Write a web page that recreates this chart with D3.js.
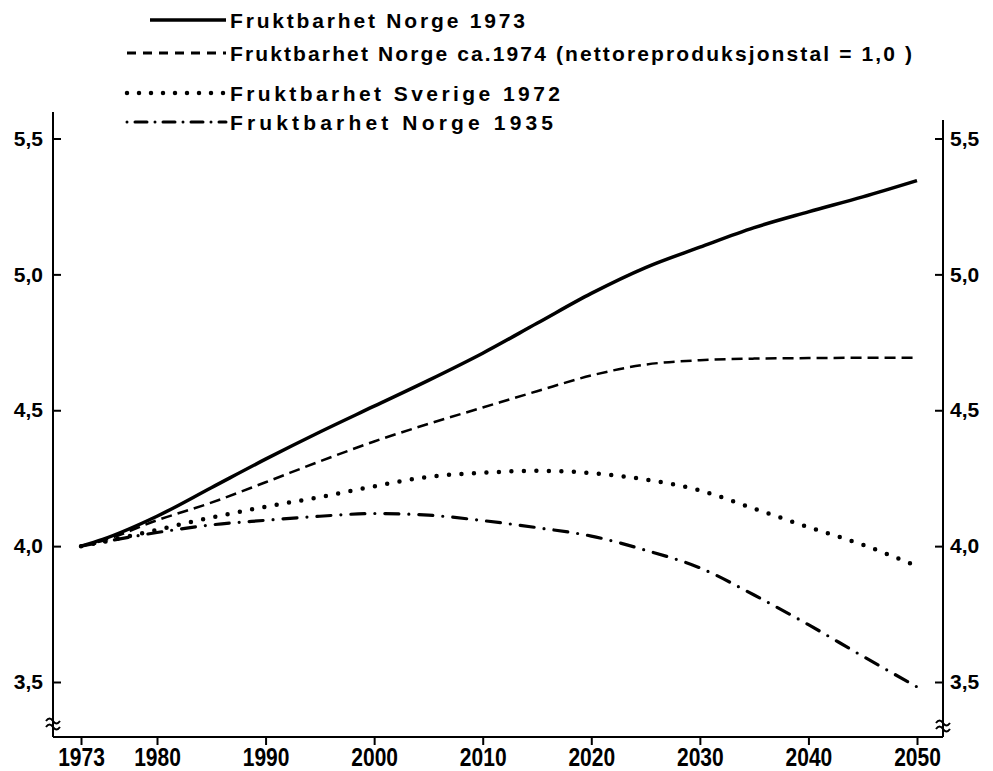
<!DOCTYPE html>
<html><head><meta charset="utf-8">
<script src="https://cdn.jsdelivr.net/npm/d3@7"></script>
<style>
body{margin:0;background:#fff;}
svg{display:block;}
.lbl{font-family:"Liberation Sans",Arial,sans-serif;font-weight:bold;fill:#000;}
</style></head>
<body><svg id="c" width="993" height="771"></svg>
<script>
const years = [1973,1975,1980,1985,1990,1995,2000,2005,2010,2015,2020,2025,2030,2035,2040,2045,2050];
const norge1973 = [4.00,4.025,4.11,4.215,4.32,4.42,4.515,4.61,4.71,4.82,4.93,5.025,5.10,5.172,5.23,5.285,5.345];
const norge1974 = [4.00,4.02,4.095,4.16,4.235,4.312,4.385,4.45,4.51,4.57,4.628,4.668,4.684,4.69,4.692,4.693,4.693];
const sverige1972 = [4.00,4.015,4.06,4.105,4.145,4.18,4.22,4.255,4.27,4.277,4.269,4.245,4.205,4.138,4.07,4.005,3.926];
const norge1935 = [4.00,4.015,4.05,4.078,4.095,4.11,4.12,4.114,4.094,4.068,4.037,3.985,3.92,3.82,3.711,3.595,3.482];
const xTicks = [1973,1980,1990,2000,2010,2020,2030,2040,2050];
const xTickLabels = ["1973","1980","1990","2000","2010","2020","2030","2040","2050"];
const yTicks = [3.5,4.0,4.5,5.0,5.5];
const legendLabels = ["Fruktbarhet  Norge  1973","Fruktbarhet  Norge ca.1974 (nettoreproduksjonstal = 1,0 )","Fruktbarhet  Sverige 1972","Fruktbarhet  Norge  1935"];

const svg = d3.select("#c");
const x = d3.scaleLinear().domain([1973,2050]).range([81,917]);
const y = d3.scaleLinear().domain([3.5,5.5]).range([682,138.5]);
const xLeft = 53, xRight = 943, yBottom = 737, yTop = 112;
const fmt = v => d3.format(".1f")(v).replace(".", ",");

// axes lines
const ax = svg.append("g").attr("stroke","#000").attr("stroke-width",2).attr("fill","none");
ax.append("line").attr("x1",xLeft).attr("x2",xLeft).attr("y1",yTop).attr("y2",yBottom);
ax.append("line").attr("x1",xRight).attr("x2",xRight).attr("y1",yTop+8).attr("y2",yBottom);
ax.append("line").attr("x1",xLeft).attr("x2",xRight).attr("y1",yBottom).attr("y2",yBottom);

// left axis
const gl = svg.append("g").attr("transform",`translate(${xLeft},0)`)
  .call(d3.axisLeft(y).tickValues(yTicks).tickSize(-8).tickFormat(fmt));
gl.select(".domain").remove();
gl.selectAll(".tick line").attr("stroke","#000").attr("stroke-width",2);
gl.selectAll(".tick text").attr("class","lbl").style("font-size","21px").attr("x",-10);

// right axis
const gr = svg.append("g").attr("transform",`translate(${xRight},0)`)
  .call(d3.axisRight(y).tickValues(yTicks).tickSize(-8).tickFormat(fmt));
gr.select(".domain").remove();
gr.selectAll(".tick line").attr("stroke","#000").attr("stroke-width",2);
gr.selectAll(".tick text").attr("class","lbl").style("font-size","21px").attr("x",7);

// bottom axis
const gb = svg.append("g").attr("transform",`translate(0,${yBottom})`)
  .call(d3.axisBottom(x).tickValues(xTicks).tickSize(8).tickFormat((d,i)=>xTickLabels[i]).tickPadding(3));
gb.select(".domain").remove();
gb.selectAll(".tick line").attr("stroke","#000").attr("stroke-width",2);
gb.selectAll(".tick text").attr("class","lbl").style("font-size","25px").attr("transform","scale(0.84,1)");

// axis break marks
function brk(cx, cy){
  svg.append("path").attr("d",`M${cx-7},${cy-1} q3.5,-5 7,0 t7,0 M${cx-7},${cy+5} q3.5,-5 7,0 t7,0`)
    .attr("fill","none").attr("stroke","#000").attr("stroke-width",2);
}
brk(xLeft, 722);
brk(xRight, 724);

// series
const series = [
  {v:norge1973, w:3.5, dash:null, cap:"butt"},
  {v:norge1974, w:2.5, dash:"11 6", cap:"butt"},
  {v:sverige1972, w:4.5, dash:"0 12.5", cap:"round"},
  {v:norge1935, w:3.2, dash:"14 10 0 10", cap:"round"}
];
const line = d3.line().x((d,i)=>x(years[i])).y(d=>y(d)).curve(d3.curveMonotoneX);
series.forEach(s=>{
  const p = svg.append("path").datum(s.v).attr("d",line)
    .attr("fill","none").attr("stroke","#000").attr("stroke-width",s.w)
    .attr("stroke-linecap",s.cap).attr("stroke-linejoin","round");
  if (s.dash) p.attr("stroke-dasharray",s.dash);
});

// legend
const legY = [20,53,93,122];
const legEnd = [525,912,560,553];
const legStyles = [
  {w:3.5, dash:null, cap:"butt", x1:150},
  {w:3, dash:"9 7", cap:"butt", x1:127},
  {w:4.5, dash:"0 12", cap:"round", x1:127},
  {w:3, dash:"0 8 12 8", cap:"round", x1:127}
];
legendLabels.forEach((t,i)=>{
  const s = legStyles[i];
  const l = svg.append("line").attr("x1",s.x1).attr("x2",226).attr("y1",legY[i]).attr("y2",legY[i])
    .attr("stroke","#000").attr("stroke-width",s.w).attr("stroke-linecap",s.cap);
  if (s.dash) l.attr("stroke-dasharray",s.dash);
  svg.append("text").attr("class","lbl").attr("x",230).attr("y",legY[i]).attr("dy","0.36em")
    .style("font-size","21px").attr("textLength",legEnd[i]-230).attr("lengthAdjust","spacing").text(t);
});
</script></body></html>
